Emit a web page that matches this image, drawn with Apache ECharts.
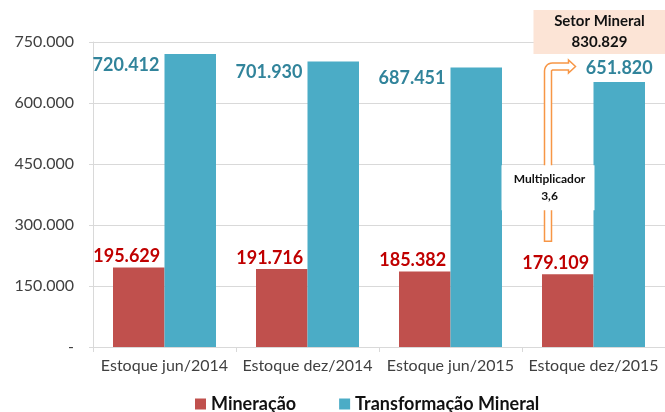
<!DOCTYPE html>
<html>
<head>
<meta charset="utf-8">
<script src="https://cdn.jsdelivr.net/npm/echarts@6.0.0/dist/echarts.min.js"></script>
<style>
html,body{margin:0;padding:0;background:#fff}
#main{width:665px;height:412px}
</style>
</head>
<body>
<div id="main"></div>
<script>
// dados do grafico
var categorias=["Estoque jun/2014","Estoque dez/2014","Estoque jun/2015","Estoque dez/2015"];
var mineracao=[195629,191716,185382,179109];
var transformacao=[720412,701930,687451,651820];
var eixoY=[0,150000,300000,450000,600000,750000];
var setorMineral="830.829";
var multiplicador="3,6";

//formata numero com ponto de milhar
function fmt(v){
	return String(v).replace(/\B(?=(\d{3})+(?!\d))/g,".");
}

var grafico=echarts.init(document.getElementById("main"));
var fonte="Lato";

var option={
	animation:false,
	textStyle:{fontFamily:fonte},
	grid:{left:93,top:42,width:576,height:305},
	legend:{
		data:["Mineração","Transformação Mineral"],
		left:190,top:390,
		icon:"rect",itemWidth:11,itemHeight:11,itemGap:43,
		textStyle:{fontFamily:fonte,fontWeight:"bold",fontSize:18,color:"#111"}
	},
	xAxis:{
		type:"category",
		data:categorias,
		axisLine:{lineStyle:{color:"#D9D9D9"}},
		axisTick:{show:true,length:5,lineStyle:{color:"#D9D9D9"}},
		axisLabel:{interval:0,fontFamily:fonte,fontSize:16,color:"#404040",margin:11}
	},
	yAxis:{
		type:"value",
		min:eixoY[0],max:eixoY[eixoY.length-1],interval:eixoY[1]-eixoY[0],
		axisLine:{show:true,lineStyle:{color:"#D9D9D9"}},
		axisTick:{show:true,length:4,lineStyle:{color:"#D9D9D9"}},
		splitLine:{lineStyle:{color:"#D9D9D9"}},
		axisLabel:{fontFamily:fonte,fontSize:16,color:"#404040",margin:19,
			formatter:function(v){return v===0?"-":fmt(v);}}
	},
	series:[
		{
			name:"Mineração",type:"bar",
			data:mineracao,
			barWidth:51.5,barGap:"0%",
			itemStyle:{color:"#C0504D"},
			label:{show:true,position:"top",distance:2,offset:[-12,0],
				fontFamily:fonte,fontWeight:"bold",fontSize:18,color:"#C00000",
				formatter:function(p){return fmt(p.value);}}
		},
		{
			name:"Transformação Mineral",type:"bar",
			data:transformacao.map(function(v,i){
				if(i==transformacao.length-1){
					return {value:v,label:{position:"top",distance:5,align:"center",verticalAlign:"bottom"}};
				}
				return v;
			}),
			barWidth:51.5,
			itemStyle:{color:"#4BACC6"},
			label:{show:true,position:[-5,11],align:"right",verticalAlign:"middle",
				fontFamily:fonte,fontWeight:"bold",fontSize:18,color:"#31849B",
				formatter:function(p){return fmt(p.value);}}
		}
	]
};
grafico.setOption(option);

//seta e caixas de anotacao, ancoradas na ultima categoria
var ult=categorias.length-1;
var cx=grafico.convertToPixel({xAxisIndex:0},categorias[ult]);
var yVerm=grafico.convertToPixel({yAxisIndex:0},mineracao[ult]);
var yAzul=grafico.convertToPixel({yAxisIndex:0},transformacao[ult]);

var x1=cx-49,x2=cx-42;
var yBase=yVerm-33,yTop=yAzul-19;
var hx=cx-25,tip=cx-18,r=8;
var pts=[[x1,yBase]];
for(var k=0;k<=6;k++){
	var a=Math.PI+k*(Math.PI/2)/6;
	pts.push([x1+r+r*Math.cos(a),yTop+r+r*Math.sin(a)]);
}
pts.push([hx,yTop],[hx,yTop-3],[tip,yTop+3.5],[hx,yTop+10],[hx,yTop+7],[x2+1,yTop+7],[x2,yTop+8],[x2,yBase]);

grafico.setOption({
	graphic:[
		{type:"polygon",z:100,shape:{points:pts},
			style:{fill:"#fff",stroke:"#F79646",lineWidth:1.5}},
		{type:"rect",z:101,shape:{x:cx-92,y:yVerm-109,width:93,height:45},
			style:{fill:"#fff"}},
		{type:"text",z:102,x:cx-44,y:yVerm-87,
			style:{text:"Multiplicador\n"+multiplicador,fontFamily:fonte,fontWeight:"bold",
				fontSize:12,lineHeight:17,fill:"#111",align:"center",verticalAlign:"middle"}},
		{type:"rect",z:101,shape:{x:cx-60,y:10,width:135,height:44},
			style:{fill:"#FCE4D6"}},
		{type:"text",z:102,x:cx+6,y:32,
			style:{text:"Setor Mineral\n"+setorMineral,fontFamily:fonte,fontWeight:"bold",
				fontSize:15,lineHeight:21,fill:"#111",align:"center",verticalAlign:"middle"}}
	]
});
</script>
</body>
</html>
